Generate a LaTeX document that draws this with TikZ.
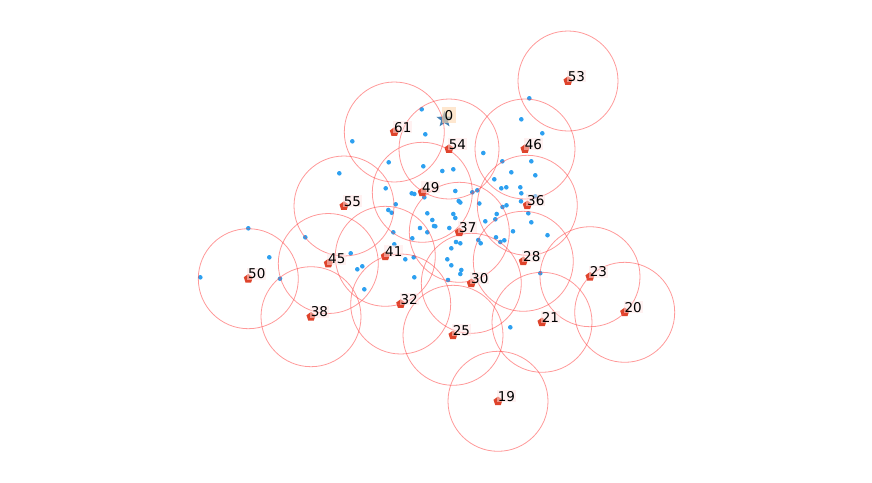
\documentclass[tikz,border=0pt]{standalone}
\usepackage{fontspec}
\setmainfont{DejaVu Sans}
\usetikzlibrary{shapes.geometric}
\definecolor{ptblue}{RGB}{45,160,240}
\definecolor{ptred}{RGB}{222,68,44}
\definecolor{ringred}{RGB}{255,70,70}
\definecolor{starblue}{RGB}{70,130,180}
\definecolor{lblpink}{RGB}{255,228,228}
\definecolor{lblpeach}{RGB}{253,215,175}

\begin{document}
\begin{tikzpicture}[x=1pt,y=-1pt,
  site/.style={regular polygon,regular polygon sides=5,fill=ptred,inner sep=0pt,minimum size=9.5pt},
  ring/.style={draw=ringred,draw opacity=0.55,line width=0.8pt},
  dot/.style={fill=ptblue},
  lbl/.style={anchor=base west,xshift=-1.3pt,fill=lblpink,fill opacity=0.5,text opacity=1,inner sep=1pt,font=\fontsize{13.5}{16}\selectfont}]
\useasboundingbox (0,0) rectangle (872,482);
% blue points
\fill[dot](421.7,109.3)circle[radius=2.3];\fill[dot](425.3,134.3)circle[radius=2.3];\fill[dot](352.3,141.3)circle[radius=2.3];
\fill[dot](483.3,153)circle[radius=2.3];\fill[dot](529.3,98.3)circle[radius=2.3];\fill[dot](521.3,119.3)circle[radius=2.3];
\fill[dot](542.3,133.3)circle[radius=2.3];\fill[dot](388.7,162.3)circle[radius=2.3];\fill[dot](423.3,166.3)circle[radius=2.3];
\fill[dot](442.3,171)circle[radius=2.3];\fill[dot](453.3,169.3)circle[radius=2.3];\fill[dot](339.3,173.3)circle[radius=2.3];
\fill[dot](502.3,161.3)circle[radius=2.3];\fill[dot](531.3,161.3)circle[radius=2.3];\fill[dot](511.3,172.3)circle[radius=2.3];
\fill[dot](535.3,175.3)circle[radius=2.3];\fill[dot](494.3,179.3)circle[radius=2.3];\fill[dot](501.3,188.3)circle[radius=2.3];
\fill[dot](506.3,187.3)circle[radius=2.3];\fill[dot](520.3,187.3)circle[radius=2.3];\fill[dot](521.3,193.3)circle[radius=2.3];
\fill[dot](385.7,188.3)circle[radius=2.3];\fill[dot](411.7,193.3)circle[radius=2.3];\fill[dot](414.3,194)circle[radius=2.3];
\fill[dot](424.3,197.3)circle[radius=2.3];\fill[dot](455.3,191)circle[radius=2.3];\fill[dot](472.3,192.3)circle[radius=2.3];
\fill[dot](477.3,190.3)circle[radius=2.3];\fill[dot](458.7,201)circle[radius=2.3];\fill[dot](460.3,202.5)circle[radius=2.3];
\fill[dot](479.3,203.5)circle[radius=2.3];\fill[dot](502.5,207)circle[radius=2.3];\fill[dot](506.5,205.3)circle[radius=2.3];
\fill[dot](521,201.3)circle[radius=2.3];\fill[dot](535.3,196.3)circle[radius=2.3];\fill[dot](395.7,204.3)circle[radius=2.3];
\fill[dot](388.3,210)circle[radius=2.3];\fill[dot](391.7,212.7)circle[radius=2.3];\fill[dot](427.3,213.3)circle[radius=2.3];
\fill[dot](432.3,220)circle[radius=2.3];\fill[dot](434,226)circle[radius=2.3];\fill[dot](435.3,226.3)circle[radius=2.3];
\fill[dot](420,228)circle[radius=2.3];\fill[dot](427.3,232.3)circle[radius=2.3];\fill[dot](449.3,228)circle[radius=2.3];
\fill[dot](453.3,214)circle[radius=2.3];\fill[dot](455.3,218)circle[radius=2.3];\fill[dot](485.3,221.3)circle[radius=2.3];
\fill[dot](496.7,214)circle[radius=2.3];\fill[dot](495.3,219.3)circle[radius=2.3];\fill[dot](528.3,213.3)circle[radius=2.3];
\fill[dot](531.3,222.3)circle[radius=2.3];\fill[dot](513,231.3)circle[radius=2.3];\fill[dot](547.5,235.2)circle[radius=2.3];
\fill[dot](496,237.3)circle[radius=2.3];\fill[dot](500.3,242)circle[radius=2.3];\fill[dot](504.3,240.3)circle[radius=2.3];
\fill[dot](478.3,240)circle[radius=2.3];\fill[dot](480.7,243.3)circle[radius=2.3];\fill[dot](456,242)circle[radius=2.3];
\fill[dot](460.3,243.3)circle[radius=2.3];\fill[dot](451.3,248.3)circle[radius=2.3];\fill[dot](447.3,259.3)circle[radius=2.3];
\fill[dot](451.3,265.3)circle[radius=2.3];\fill[dot](461.3,270)circle[radius=2.3];\fill[dot](460.3,274)circle[radius=2.3];
\fill[dot](448,280)circle[radius=2.3];\fill[dot](393.3,232.3)circle[radius=2.3];\fill[dot](412.3,238.3)circle[radius=2.3];
\fill[dot](394.3,244.3)circle[radius=2.3];\fill[dot](405.3,259.3)circle[radius=2.3];\fill[dot](413.7,257.3)circle[radius=2.3];
\fill[dot](414.3,277.3)circle[radius=2.3];\fill[dot](350.7,253.3)circle[radius=2.3];\fill[dot](362.3,266.3)circle[radius=2.3];
\fill[dot](357.3,269.3)circle[radius=2.3];\fill[dot](364.3,289.3)circle[radius=2.3];\fill[dot](540.3,273.2)circle[radius=2.3];
\fill[dot](510.3,327.3)circle[radius=2.3];\fill[dot](248.3,228.3)circle[radius=2.3];\fill[dot](269.3,257.3)circle[radius=2.3];
\fill[dot](200.3,277.3)circle[radius=2.3];\fill[dot](280,278.7)circle[radius=2.3];\fill[dot](305.3,237.3)circle[radius=2.3];
% red sites
\node[site] (s61) at (394.3,132) {};
\node[site] (s54) at (449,149) {};
\node[site] (s46) at (525,149) {};
\node[site] (s49) at (422.3,192.3) {};
\node[site] (s55) at (344,206) {};
\node[site] (s36) at (527.3,205.3) {};
\node[site] (s37) at (459.3,232.3) {};
\node[site] (s41) at (385.3,256.3) {};
\node[site] (s45) at (328.3,263.5) {};
\node[site] (s28) at (523.3,261.3) {};
\node[site] (s30) at (471.3,283.3) {};
\node[site] (s32) at (400.7,304) {};
\node[site] (s21) at (542,322.3) {};
\node[site] (s25) at (453,335.3) {};
\node[site] (s50) at (248.3,278.7) {};
\node[site] (s38) at (311,316.7) {};
\node[site] (s53) at (568,81) {};
\node[site] (s23) at (590,276.7) {};
\node[site] (s20) at (624.7,312.3) {};
\node[site] (s19) at (498,401.3) {};
\node[star,star points=5,star point ratio=2.4,minimum size=17pt,inner sep=0pt,fill=starblue] (s0) at (444.5,119.5) {};
% rings
\draw[ring](s61)circle[radius=50];\draw[ring](s54)circle[radius=50];\draw[ring](s46)circle[radius=50];
\draw[ring](s49)circle[radius=50];\draw[ring](s55)circle[radius=50];\draw[ring](s36)circle[radius=50];
\draw[ring](s37)circle[radius=50];\draw[ring](s41)circle[radius=50];\draw[ring](s45)circle[radius=50];
\draw[ring](s28)circle[radius=50];\draw[ring](s30)circle[radius=50];\draw[ring](s32)circle[radius=50];
\draw[ring](s21)circle[radius=50];\draw[ring](s25)circle[radius=50];\draw[ring](s50)circle[radius=50];
\draw[ring](s38)circle[radius=50];\draw[ring](s53)circle[radius=50];\draw[ring](s23)circle[radius=50];
\draw[ring](s20)circle[radius=50];\draw[ring](s19)circle[radius=50];
% labels
\node[lbl] (l61) at (s61) {61};
\node[lbl] (l54) at (s54) {54};
\node[lbl] (l46) at (s46) {46};
\node[lbl] (l49) at (s49) {49};
\node[lbl] (l55) at (s55) {55};
\node[lbl] (l36) at (s36) {36};
\node[lbl] (l37) at (s37) {37};
\node[lbl] (l41) at (s41) {41};
\node[lbl] (l45) at (s45) {45};
\node[lbl] (l28) at (s28) {28};
\node[lbl] (l30) at (s30) {30};
\node[lbl] (l32) at (s32) {32};
\node[lbl] (l21) at (s21) {21};
\node[lbl] (l25) at (s25) {25};
\node[lbl] (l50) at (s50) {50};
\node[lbl] (l38) at (s38) {38};
\node[lbl] (l53) at (s53) {53};
\node[lbl] (l23) at (s23) {23};
\node[lbl] (l20) at (s20) {20};
\node[lbl] (l19) at (s19) {19};
\node[lbl,fill=lblpeach,fill opacity=0.6,inner sep=3pt,xshift=0pt] (l0) at (442.7,120) {0};
\end{tikzpicture}
\end{document}
